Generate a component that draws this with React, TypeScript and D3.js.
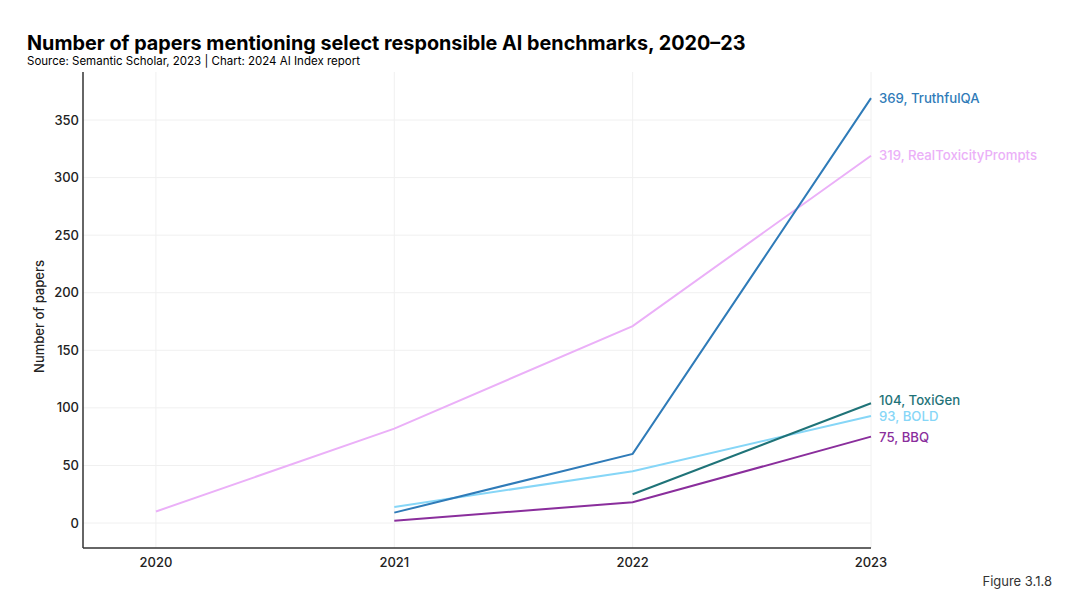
import * as d3 from 'd3'

const years = [2020, 2021, 2022, 2023]
const yTicks = [0, 50, 100, 150, 200, 250, 300, 350]

const realToxicity = [10, 82, 171, 319]
const truthfulQA = [null, 9, 60, 369]
const toxiGen = [null, null, 25, 104]
const bold = [null, 14, 45, 93]
const bbq = [null, 2, 18, 75]

const SERIES = [
  { name: 'RealToxicityPrompts', values: realToxicity, color: '#ebb0f8' },
  { name: 'BOLD', values: bold, color: '#86d6f7' },
  { name: 'BBQ', values: bbq, color: '#8a2e9c' },
  { name: 'ToxiGen', values: toxiGen, color: '#1f7378' },
  { name: 'TruthfulQA', values: truthfulQA, color: '#2f7bb8' },
]

// label offsets to keep the end labels apart
const labelDy: Record<string, number> = {
  TruthfulQA: 0,
  RealToxicityPrompts: 0,
  ToxiGen: -3,
  BOLD: 0,
  BBQ: 1,
}

const FONT = 'Inter, "Noto Sans", sans-serif'

export default function App() {
  const W = 1080
  const H = 608
  const left = 83
  const right = 871
  const top = 72
  const bottom = 548

  const x = d3.scaleLinear().domain([2019.694, 2023]).range([left, right])
  const y = d3.scaleLinear().domain([-21.7, 391.7]).range([bottom, top])

  const line = d3
    .line<number | null>()
    .defined(d => d != null)
    .x((_, i) => x(years[i]))
    .y(d => y(d as number))

  return (
    <svg width={W} height={H} style={{ position: 'absolute', left: 0, top: 0, background: '#fff' }} fontFamily={FONT}>
      <text x={27} y={50} fontSize={19.8} fontWeight={700} fill="#000">
        Number of papers mentioning select responsible AI benchmarks, 2020–23
      </text>
      <text x={27} y={65} fontSize={11.5} fill="#000">
        Source: Semantic Scholar, 2023 | Chart: 2024 AI Index report
      </text>

      {/* grid */}
      {yTicks.map(t => (
        <line key={'gy' + t} x1={left} x2={right} y1={y(t)} y2={y(t)} stroke="#f0f0f0" strokeWidth={1} />
      ))}
      {years.map(yr => (
        <line key={'gx' + yr} x1={x(yr)} x2={x(yr)} y1={top} y2={bottom} stroke="#f0f0f0" strokeWidth={1} />
      ))}

      {/* axes */}
      <line x1={left} x2={left} y1={top} y2={bottom} stroke="#333" strokeWidth={1.5} />
      <line x1={left} x2={right} y1={bottom} y2={bottom} stroke="#333" strokeWidth={1.5} />

      {yTicks.map(t => (
        <text key={'ty' + t} x={left - 4} y={y(t)} dy="0.35em" textAnchor="end" fontSize={13} fontWeight={500} fill="#222">
          {t}
        </text>
      ))}
      {years.map(yr => (
        <text key={'tx' + yr} x={x(yr)} y={bottom + 19} textAnchor="middle" fontSize={13} fontWeight={500} fill="#222">
          {yr}
        </text>
      ))}
      <text
        transform={`translate(44,${(y(0) + y(350)) / 2 - 5}) rotate(-90)`}
        textAnchor="middle"
        fontSize={13}
        fontWeight={500}
        fill="#222"
      >
        Number of papers
      </text>

      {SERIES.map(s => (
        <path key={s.name} d={line(s.values) || ''} fill="none" stroke={s.color} strokeWidth={2} />
      ))}

      {SERIES.map(s => {
        const v = s.values[s.values.length - 1] as number
        return (
          <text
            key={'l' + s.name}
            x={x(2023) + 8}
            y={y(v) + labelDy[s.name]}
            dy="0.35em"
            fontSize={13.2}
            fontWeight={500}
            fill={s.color}
          >
            {v}, {s.name}
          </text>
        )
      })}

      <text x={1052} y={586} textAnchor="end" fontSize={13} fill="#333">
        Figure 3.1.8
      </text>
    </svg>
  )
}
